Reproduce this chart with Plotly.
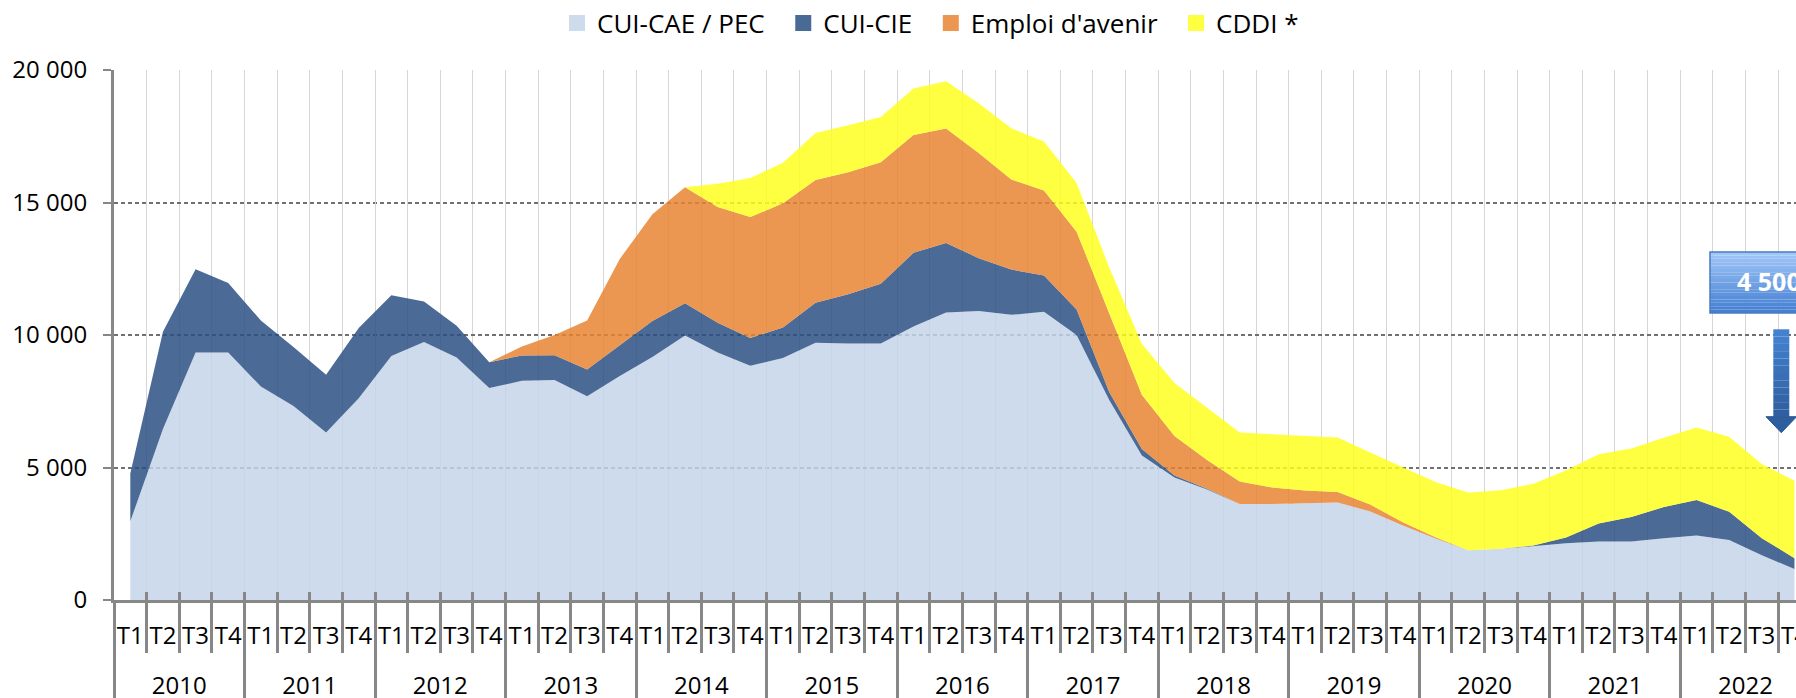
import plotly.graph_objects as go

# ---------------- data ----------------
years = [str(y) for y in range(2010, 2023)]
quarters = ["T1", "T2", "T3", "T4"]
quarter_labels = [q for _ in years for q in quarters]

series_names = ["CUI-CAE / PEC", "CUI-CIE", "Emploi d'avenir", "CDDI *"]

cui_cae = [2970, 6450, 9340, 9340, 8060, 7320, 6320, 7610, 9210, 9740, 9150, 8000,
           8270, 8300, 7690, 8450, 9170, 9980, 9340, 8840, 9130, 9710, 9680, 9680,
           10320, 10850, 10910, 10760, 10880, 10000, 7550, 5450, 4620, 4170, 3620, 3620,
           3650, 3680, 3340, 2810, 2320, 1880, 1930, 2040, 2140, 2210, 2210, 2330,
           2430, 2260, 1690, 1170]
cui_cie = [1800, 3670, 3140, 2620, 2490, 2230, 2180, 2650, 2290, 1520, 1200, 970,
           960, 940, 1010, 1160, 1360, 1220, 1125, 1050, 1150, 1510, 1860, 2250,
           2780, 2620, 1990, 1710, 1370, 960, 300, 250, 80, 30, 0, 0,
           0, 0, 0, 0, 0, 0, 0, 20, 220, 680, 920, 1180,
           1340, 1070, 640, 410]
emploi_avenir = [0, 0, 0, 0, 0, 0, 0, 0, 0, 0, 0, 0,
                 340, 760, 1850, 3260, 4030, 4375, 4365, 4560, 4690, 4630, 4605, 4590,
                 4450, 4325, 3970, 3400, 3200, 2940, 2970, 2050, 1490, 1080, 855, 625,
                 480, 400, 260, 120, 50, 0, 0, 0, 0, 0, 0, 0,
                 0, 0, 0, 0]
cddi = [0, 0, 0, 0, 0, 0, 0, 0, 0, 0, 0, 0,
        0, 0, 0, 0, 0, 0, 875, 1470, 1530, 1770, 1770, 1705,
        1750, 1785, 1880, 1930, 1850, 1840, 1730, 1920, 2000, 1980, 1850, 2010,
        2070, 2050, 1970, 2070, 2080, 2180, 2210, 2330, 2540, 2610, 2590, 2610,
        2740, 2830, 2800, 2920]

y_ticks = [0, 5000, 10000, 15000, 20000]
callout_text = "4 500"

# ---------------- style ----------------
W, H = 1796, 698
L_M, R_M, T_M, B_M = 114, 0, 70, 98
FONT = "Open Sans, Noto Sans, sans-serif"
AXIS_GRAY = "#878787"
target_colors = [(205, 219, 236), (74, 106, 150), (235, 151, 82), (255, 255, 66)]
ALPHA = 0.84
NBSP = "\u00a0"


def rgba_over_white(rgb, a):
    base = [max(0, min(255, round((c - (1 - a) * 255) / a))) for c in rgb]
    return f"rgba({base[0]},{base[1]},{base[2]},{a})"


def hexcol(rgb):
    return "#%02x%02x%02x" % rgb


x = list(range(len(quarter_labels)))
x_max = -0.5 + (W - L_M - R_M) / 32.63

fig = go.Figure()
for name, vals, col in zip(series_names, [cui_cae, cui_cie, emploi_avenir, cddi], target_colors):
    fig.add_trace(go.Scatter(x=x, y=vals, name=name, stackgroup="one", mode="lines",
                             line=dict(width=0), fillcolor=rgba_over_white(col, ALPHA),
                             showlegend=False, hoverinfo="skip"))
# legend entries (square swatches)
for name, col in zip(series_names, target_colors):
    fig.add_trace(go.Scatter(x=[None], y=[None], name=name + NBSP * 2, mode="markers",
                             marker=dict(symbol="square", size=16, color=hexcol(col)),
                             showlegend=True))
# dummy traces to activate overlay axes
for ax in ["x2", "x3", "x4"]:
    fig.add_trace(go.Scatter(x=[None], y=[None], xaxis=ax, yaxis="y", showlegend=False,
                             hoverinfo="skip"))

year_centers = [4 * k + 1.5 for k in range(len(years))]

fig.update_layout(
    width=W, height=H,
    margin=dict(l=L_M, r=R_M, t=T_M, b=B_M, autoexpand=False),
    paper_bgcolor="white", plot_bgcolor="white",
    separators=", ",
    font=dict(family=FONT, color="black", size=24),
    showlegend=True,
    legend=dict(orientation="h", x=(557 - L_M) / (W - L_M - R_M), xanchor="left",
                y=(H - B_M - 23) / (H - T_M - B_M), yanchor="middle",
                font=dict(size=26, family=FONT), bgcolor="rgba(0,0,0,0)",
                traceorder="normal", itemwidth=30),
    xaxis=dict(range=[-0.5, x_max], tickmode="array", tickvals=x, ticktext=quarter_labels,
               ticks="", showgrid=False, zeroline=False, showline=True,
               linecolor=AXIS_GRAY, linewidth=3, tickfont=dict(size=24),
               ticklabelstandoff=12, ticklabeloverflow="allow", layer="above traces",
               automargin=False),
    xaxis2=dict(overlaying="x", anchor="y", side="bottom", range=[-0.5, x_max],
                tickmode="array", tickvals=year_centers, ticktext=years,
                ticks="outside", ticklen=64, tickwidth=1, tickcolor="rgba(0,0,0,0)",
                showgrid=False, zeroline=False, showline=False, tickfont=dict(size=24),
                ticklabeloverflow="allow", automargin=False),
    xaxis3=dict(overlaying="x", anchor="y", side="bottom", range=[-0.5, x_max],
                tickmode="linear", tick0=-0.5, dtick=4, ticks="outside", ticklen=98,
                tickwidth=3, tickcolor=AXIS_GRAY, showticklabels=False,
                showgrid=True, gridcolor="#d6d6d6", gridwidth=1, zeroline=False,
                showline=False, automargin=False,
                minor=dict(tick0=-0.5, dtick=1, ticks="outside", ticklen=52, tickwidth=3,
                           tickcolor=AXIS_GRAY, showgrid=True, gridcolor="#d6d6d6",
                           gridwidth=1)),
    xaxis4=dict(overlaying="x", anchor="y", side="bottom", range=[-0.5, x_max],
                tickmode="linear", tick0=-0.5, dtick=1, ticks="inside", ticklen=8,
                tickwidth=3, tickcolor=AXIS_GRAY, showticklabels=False, automargin=False,
                showgrid=False, zeroline=False, showline=False, layer="above traces"),
    yaxis=dict(range=[0, 20000], tickmode="array", tickvals=y_ticks, tickformat=",d",
               ticks="outside", ticklen=8, tickwidth=2, tickcolor=AXIS_GRAY,
               showline=True, linecolor=AXIS_GRAY, linewidth=3, automargin=False,
               showgrid=True, gridcolor="#707070", gridwidth=1.6, griddash="4px,3px",
               zeroline=False, tickfont=dict(size=24), ticklabelstandoff=11,
               layer="above traces"),
)

# ---------------- callout box and arrow (decoration, pixel placed) ----------------
pw, ph = W - L_M - R_M, H - T_M - B_M


def px(xp):
    return (xp - L_M) / pw


def py(yp):
    return (H - B_M - yp) / ph


def lerp(c1, c2, t):
    return tuple(round(a + (b - a) * t) for a, b in zip(c1, c2))


shapes = []
box_x0, box_x1, box_top, box_bot = 1710, 1860, 252, 313
n = 18
for i in range(n):
    y0 = box_top + (box_bot - box_top) * i / n
    y1 = box_top + (box_bot - box_top) * (i + 1) / n
    c = lerp((160, 197, 247), (68, 128, 210), i / (n - 1))
    shapes.append(dict(type="rect", xref="paper", yref="paper", x0=px(box_x0), x1=px(box_x1),
                       y0=py(y1), y1=py(y0), fillcolor=hexcol(c), line=dict(width=0),
                       layer="above"))
shapes.append(dict(type="rect", xref="paper", yref="paper", x0=px(box_x0), x1=px(box_x1),
                   y0=py(box_bot), y1=py(box_top), fillcolor="rgba(0,0,0,0)",
                   line=dict(color="#4a7cc0", width=1.5), layer="above"))

sh_x0, sh_x1, sh_top, sh_bot = 1773.3, 1789.3, 329.3, 416.7
m = 12
for i in range(m):
    y0 = sh_top + (sh_bot - sh_top) * i / m
    y1 = sh_top + (sh_bot - sh_top) * (i + 1) / m
    c = lerp((68, 130, 208), (47, 95, 160), i / (m - 1))
    shapes.append(dict(type="rect", xref="paper", yref="paper", x0=px(sh_x0), x1=px(sh_x1),
                       y0=py(y1), y1=py(y0), fillcolor=hexcol(c), line=dict(width=0),
                       layer="above"))
hx0, hx1, tipx, tipy = 1766.0, 1796.6, 1781.3, 432.7
path = (f"M{px(hx0)},{py(sh_bot)} L{px(hx1)},{py(sh_bot)} L{px(tipx)},{py(tipy)} Z")
shapes.append(dict(type="path", xref="paper", yref="paper", path=path,
                   fillcolor="#2f5e9e", line=dict(color="#2b5690", width=1), layer="above"))
fig.update_layout(shapes=shapes)

fig.add_annotation(xref="paper", yref="paper", x=px(1735), y=py(281), xanchor="left",
                   yanchor="middle", text=f"<b>{callout_text}</b>", showarrow=False,
                   font=dict(family=FONT, size=25, color="white"))

fig.write_html("out.html", include_plotlyjs=True, config={"displayModeBar": False},
               post_script="document.body.style.margin='0';document.body.style.overflow='hidden';")
